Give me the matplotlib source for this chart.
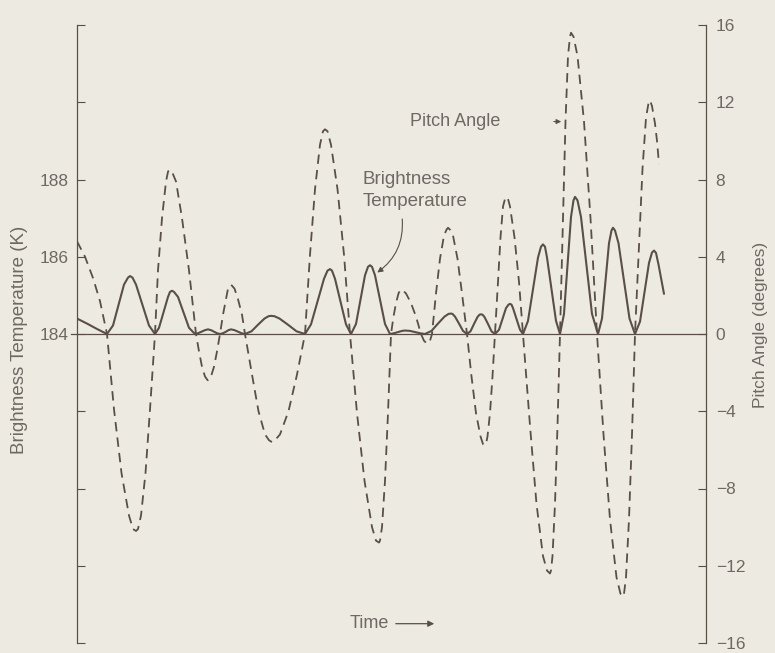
import matplotlib.pyplot as plt

paper = "#edebe1"
ink = "#5a4e49"
grey = "#6f6864"

plt.rcParams['font.family'] = ['Liberation Sans', 'DejaVu Sans']

# pitch angle (degrees) against time
pitch_t = [0, 8, 16, 23, 30,
           37, 44.5, 52, 56, 59, 61, 64, 68.5, 73, 78,
           81, 85, 89, 91, 92, 95, 99, 105, 112, 119,
           122, 125, 128, 130, 131, 132, 134, 137, 140, 143,
           146, 149, 151, 153, 154, 155, 157.5, 161, 165, 168,
           175, 181.5, 188, 192, 195, 198, 203, 211.5, 220, 228,
           233, 238, 243, 246, 248, 250.5, 254, 260.5, 267, 273,
           280, 287.5, 295, 299, 302, 303, 305, 308, 311, 314,
           316.5, 319, 321.5, 323, 324, 326, 329, 334, 339, 344,
           347, 350, 353, 355,
           359, 363, 367, 369.5, 371, 373, 376, 380.5, 385, 390,
           394.5, 399, 403.5, 406, 408, 409, 410.5, 413, 415.5, 418,
           421, 423.5, 426, 428, 429, 431, 433, 437.5, 442, 446,
           453, 459.5, 466, 470, 473, 474, 475.5, 478, 480.5, 483,
           486, 488.5, 491, 493, 494, 496.5, 500.5, 507, 513.5, 520,
           526.5, 533, 539.5, 543.5, 546, 547, 549, 552, 555, 558,
           562, 565.5, 569, 571.5, 573, 575, 578, 580, 582]
pitch_deg = [4.8, 4.0, 2.9, 1.7, 0.0,
             -3.9, -7.2, -9.4, -10.1, -10.2, -10.1, -9.4, -7.2, -3.9, 0.0,
             3.3, 6.0, 7.9, 8.4, 8.5, 8.4, 7.9, 6.0, 3.3, 0.0,
             -0.9, -1.7, -2.2, -2.35, -2.4, -2.35, -2.2, -1.7, -0.9, 0.0,
             1.0, 1.8, 2.35, 2.5, 2.55, 2.5, 2.35, 1.8, 1.0, 0.0,
             -2.1, -4.0, -5.2, -5.5, -5.6, -5.5, -5.2, -4.0, -2.1, 0.0,
             4.1, 7.5, 9.8, 10.5, 10.6, 10.5, 9.8, 7.5, 4.1, 0.0,
             -4.1, -7.6, -10.0, -10.7, -10.8, -10.7, -10.0, -7.6, -4.1, 0.0,
             0.9, 1.6, 2.1, 2.25, 2.3, 2.25, 2.1, 1.6, 0.9, 0.0,
             -0.35, -0.5, -0.35, 0.0,
             2.1, 3.9, 5.1, 5.4, 5.5, 5.4, 5.1, 3.9, 2.1, 0.0,
             -2.2, -4.1, -5.3, -5.7, -5.75, -5.7, -5.3, -4.1, -2.2, 0.0,
             2.7, 5.0, 6.6, 7.0, 7.1, 7.0, 6.6, 5.0, 2.7, 0.0,
             -4.75, -8.8, -11.5, -12.25, -12.4, -12.25, -11.5, -8.8, -4.75, 0.0,
             6.0, 11.0, 14.4, 15.4, 15.6, 15.4, 14.4, 11.0, 6.0, 0.0,
             -5.2, -9.6, -12.6, -13.45, -13.6, -13.45, -12.6, -9.6, -5.2, 0.0,
             4.6, 8.55, 11.2, 11.95, 12.1, 11.8, 10.9, 10.0, 8.8]

# brightness temperature (K) against time
bright_t = [0, 10, 20, 30,
            36, 41.5, 47, 51, 53, 55.5, 59, 65.5, 72, 78,
            82, 86.5, 91, 93, 95, 97, 101, 106.5, 112, 118,
            121, 124.5, 128, 131, 134, 137, 140, 143,
            146, 149, 151.5, 154, 157.5, 161, 164.5, 168,
            174.5, 181, 187.5, 191.5, 194, 197.5, 202.5, 211, 219.5, 228,
            234, 240.5, 247, 250.5, 253, 255, 258, 263.5, 269, 274,
            279, 283.5, 288, 291, 293, 295, 298, 303, 308, 313,
            317, 321, 325, 328, 333, 338, 343, 348,
            354.5, 361, 367.5, 371.5, 374, 375.5, 378, 382, 386, 390,
            393.5, 397, 400.5, 402.5, 404, 405.5, 407.5, 411, 414.5, 418,
            422, 425.5, 429, 431.5, 433, 434.5, 436, 439.5, 443, 446,
            451, 456, 461, 464, 466, 468, 470, 474.5, 479, 483,
            487, 490.5, 494, 496.5, 498, 500.5, 504, 509.5, 515, 521,
            525, 528.5, 532, 534.5, 536, 538, 541.5, 547, 552.5, 558,
            563, 567.5, 572, 575, 577, 579, 581.5, 584, 587]
bright_k = [184.40, 184.27, 184.13, 184.00,
            184.22, 184.75, 185.28, 185.46, 185.50, 185.46, 185.28, 184.75, 184.22, 184.00,
            184.16, 184.56, 184.96, 185.09, 185.12, 185.09, 184.96, 184.56, 184.16, 184.00,
            184.02, 184.06, 184.10, 184.12, 184.10, 184.06, 184.02, 184.00,
            184.02, 184.06, 184.10, 184.12, 184.10, 184.06, 184.02, 184.00,
            184.07, 184.24, 184.40, 184.46, 184.47, 184.46, 184.40, 184.24, 184.07, 184.00,
            184.25, 184.84, 185.43, 185.64, 185.68, 185.64, 185.43, 184.84, 184.25, 184.00,
            184.26, 184.89, 185.52, 185.74, 185.78, 185.74, 185.52, 184.89, 184.26, 184.00,
            184.02, 184.05, 184.08, 184.09, 184.08, 184.05, 184.02, 184.00,
            184.08, 184.27, 184.45, 184.52, 184.53, 184.52, 184.45, 184.27, 184.08, 184.00,
            184.07, 184.26, 184.44, 184.50, 184.51, 184.50, 184.44, 184.26, 184.07, 184.00,
            184.11, 184.39, 184.67, 184.76, 184.78, 184.76, 184.67, 184.39, 184.11, 184.00,
            184.34, 185.16, 185.98, 186.26, 186.32, 186.26, 185.98, 185.16, 184.34, 184.00,
            184.52, 185.78, 187.03, 187.46, 187.55, 187.46, 187.03, 185.78, 184.52, 184.00,
            184.40, 185.38, 186.35, 186.68, 186.75, 186.68, 186.35, 185.38, 184.40, 184.00,
            184.32, 185.08, 185.84, 186.11, 186.16, 186.10, 185.80, 185.45, 185.04]

k_ticks = [176, 178, 180, 182, 184, 186, 188, 190, 192]
k_labels = ['', '', '', '', '184', '186', '188', '', '']
deg_ticks = [-16, -12, -8, -4, 0, 4, 8, 12, 16]

fig = plt.figure(figsize=(7.75, 6.53), dpi=100, facecolor=paper)
ax = fig.add_axes([77 / 775, 10 / 653, 629 / 775, 618 / 653])
ax.set_facecolor('none')
ax2 = ax.twinx()

ax.plot(bright_t, bright_k, color=ink, lw=1.5, solid_capstyle='round')
ax2.plot(pitch_t, pitch_deg, color=ink, lw=1.3, linestyle=(0, (5.2, 3.4)))
ax.axhline(184, xmin=-0.01, xmax=1, color=ink, lw=0.9, clip_on=False)

ax.set_xlim(0, 629)
ax.set_ylim(176, 192)
ax2.set_ylim(-16, 16)
ax.set_xticks([])

for s in ['top', 'bottom', 'right']:
    ax.spines[s].set_visible(False)
for s in ['top', 'bottom', 'left']:
    ax2.spines[s].set_visible(False)
ax.spines['left'].set_color(ink)
ax.spines['left'].set_linewidth(0.9)
ax2.spines['right'].set_color(ink)
ax2.spines['right'].set_linewidth(0.9)

ax.set_yticks(k_ticks)
ax.set_yticklabels(k_labels)
ax.tick_params(axis='y', direction='in', length=6, width=0.8, color=ink,
               labelcolor=grey, labelsize=12.5, pad=6)
ax2.set_yticks(deg_ticks)
ax2.tick_params(axis='y', direction='in', length=6, width=0.8, color=ink,
                labelcolor=grey, labelsize=12.5, pad=7)

fig.text(20 / 775, 1 - 340 / 653, 'Brightness Temperature (K)', rotation=90,
         ha='center', va='center', fontsize=13.5, color=grey)
fig.text(760 / 775, 1 - 325 / 653, 'Pitch Angle (degrees)', rotation=90,
         ha='center', va='center', fontsize=12.5, color=grey)

# curve labels
ax.text(286, 187.72, 'Brightness\nTemperature', ha='left', va='center',
        fontsize=13.5, color=grey, linespacing=1.35)
ax.annotate('', xy=(298, 185.55), xytext=(325, 187.05),
            arrowprops=dict(arrowstyle='-|>', color=ink, lw=0.8,
                            mutation_scale=8,
                            connectionstyle='arc3,rad=-0.3'))
ax2.text(333, 11.0, 'Pitch Angle', ha='left', va='center',
         fontsize=13, color=grey)
ax2.annotate('', xy=(487, 11.0), xytext=(474, 11.0),
             arrowprops=dict(arrowstyle='-|>', color=ink, lw=0.8,
                             mutation_scale=7))

ax2.text(273, -15.0, 'Time', ha='left', va='center', fontsize=13, color=grey)
ax2.annotate('', xy=(360, -15.0), xytext=(316, -15.0),
             arrowprops=dict(arrowstyle='-|>', color=ink, lw=0.9,
                             mutation_scale=9))

fig.savefig('out.png', dpi=100, facecolor=paper)
